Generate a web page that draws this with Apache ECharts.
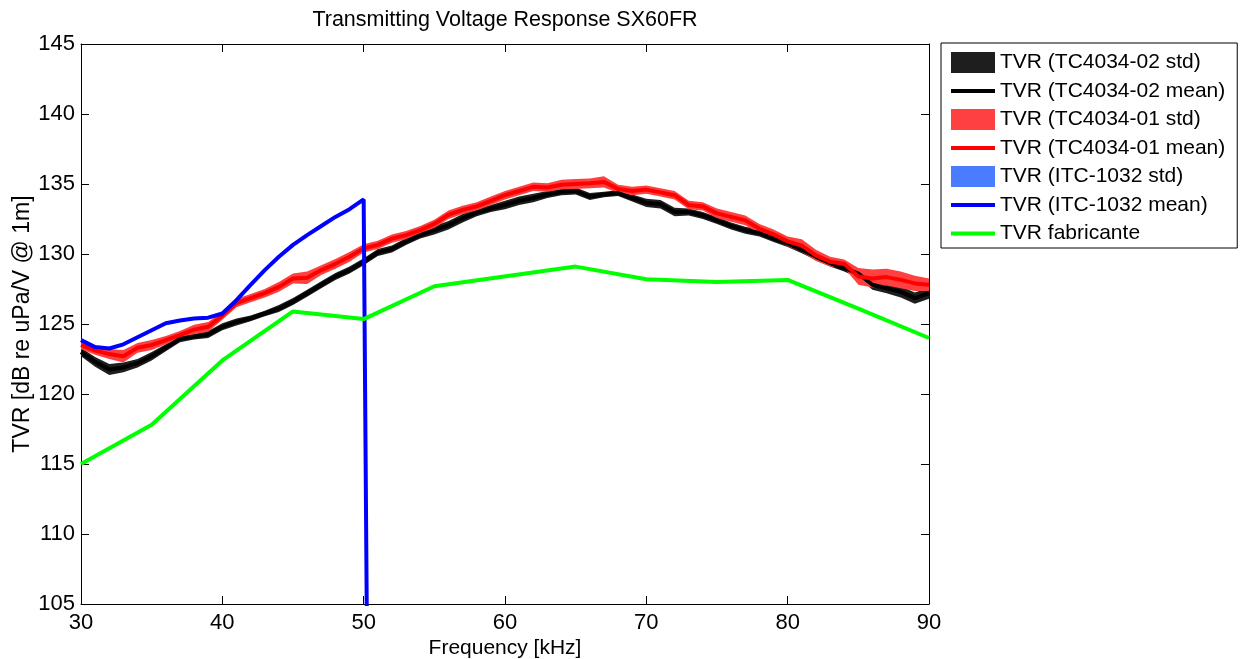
<!DOCTYPE html>
<html><head><meta charset="utf-8">
<script src="https://cdn.jsdelivr.net/npm/echarts@6/dist/echarts.min.js"></script>
<style>html,body{margin:0;padding:0;background:#fff}#c{width:1242px;height:659px}</style>
</head><body><div id="c"></div>
<script>
const freq = [30,31,32,33,34,35,36,37,38,39,40,41,42,43,44,45,46,47,48,49,50,51,52,53,54,55,56,57,58,59,60,61,62,63,64,65,66,67,68,69,70,71,72,73,74,75,76,77,78,79,80,81,82,83,84,85,86,87,88,89,90];
const mean02 = [123.0,122.3,121.75,121.9,122.2,122.7,123.3,123.95,124.1,124.25,124.8,125.15,125.4,125.75,126.1,126.6,127.2,127.8,128.4,128.85,129.45,130.1,130.35,130.9,131.35,131.7,132.05,132.55,132.95,133.25,133.5,133.8,134.0,134.25,134.45,134.5,134.1,134.25,134.35,134.0,133.65,133.55,133.0,133.0,132.75,132.4,132.0,131.7,131.5,131.1,130.75,130.3,129.8,129.35,129.0,128.6,127.8,127.55,127.3,126.85,127.2];
const std02 = [0.3,0.35,0.4,0.35,0.3,0.3,0.25,0.25,0.2,0.25,0.25,0.25,0.2,0.2,0.25,0.25,0.25,0.25,0.25,0.25,0.25,0.25,0.25,0.25,0.25,0.3,0.3,0.3,0.25,0.25,0.3,0.3,0.3,0.25,0.25,0.25,0.25,0.2,0.2,0.25,0.3,0.3,0.3,0.25,0.25,0.25,0.25,0.25,0.25,0.25,0.25,0.25,0.25,0.25,0.25,0.3,0.35,0.35,0.4,0.4,0.4];
const mean01 = [123.5,123.1,122.85,122.7,123.3,123.5,123.85,124.2,124.6,124.8,125.6,126.5,126.85,127.2,127.65,128.25,128.3,128.85,129.3,129.8,130.4,130.65,131.1,131.35,131.7,132.15,132.8,133.15,133.4,133.8,134.2,134.5,134.8,134.75,134.95,135.0,135.05,135.15,134.65,134.5,134.6,134.4,134.2,133.5,133.4,132.9,132.65,132.4,131.8,131.4,130.9,130.6,129.9,129.45,129.3,128.4,128.25,128.35,128.15,127.9,127.8];
const std01 = [0.3,0.3,0.35,0.45,0.35,0.35,0.3,0.3,0.35,0.35,0.3,0.3,0.3,0.3,0.35,0.35,0.45,0.35,0.35,0.35,0.3,0.3,0.3,0.3,0.3,0.3,0.3,0.3,0.3,0.3,0.3,0.3,0.3,0.3,0.35,0.35,0.35,0.4,0.3,0.3,0.3,0.3,0.3,0.3,0.3,0.35,0.35,0.35,0.35,0.35,0.35,0.45,0.4,0.35,0.3,0.6,0.65,0.6,0.6,0.55,0.45];
const freqITC = [30,31,32,33,34,35,36,37,38,39,40,41,42,43,44,45,46,47,48,49,50,51];
const meanITC = [123.85,123.35,123.25,123.55,124.05,124.55,125.05,125.25,125.4,125.45,125.75,126.7,127.8,128.85,129.8,130.65,131.35,132.0,132.65,133.2,133.9,0];
const stdITC = [0.1,0.1,0.1,0.1,0.1,0.1,0.1,0.1,0.1,0.1,0.1,0.1,0.1,0.1,0.1,0.1,0.1,0.1,0.1,0.1,0.1];
const freqFab = [30,35,40,45,50,55,65,70,75,80,85,90];
const tvrFab = [115.0,117.8,122.4,125.9,125.35,127.7,129.1,128.2,128.0,128.15,126.1,124.0];
const xTicks = [30,40,50,60,70,80,90];
const yTicks = [105,110,115,120,125,130,135,140,145];

const names = ['TVR (TC4034-02 std)','TVR (TC4034-02 mean)','TVR (TC4034-01 std)','TVR (TC4034-01 mean)','TVR (ITC-1032 std)','TVR (ITC-1032 mean)','TVR fabricante'];
const FONT = 'Liberation Sans, Arial, sans-serif';

function pairs(xs, ys){ return ys.map((v,i)=>[xs[i], v]); }

function bandSeries(name, xs, m, s, color){
  const data = s.map((d,i)=>[xs[i], m[i]-d, m[i]+d]);
  return {
    type:'custom', name:name, data:data, z:2, silent:true,
    itemStyle:{color:color},
    encode:{x:0, y:[1,2]},
    renderItem:function(params, api){
      if (params.dataIndex !== 0) return null;
      const top = [], bot = [];
      for (let i = 0; i < data.length; i++){
        top.push(api.coord([data[i][0], data[i][2]]));
        bot.push(api.coord([data[i][0], data[i][1]]));
      }
      return {type:'polygon', shape:{points: top.concat(bot.reverse())}, style:{fill:color, stroke:null}};
    }
  };
}
function meanLine(name, data, color){
  return {type:'line', name:name, data:data, symbol:'none', itemStyle:{color:color}, lineStyle:{color:color, width:4}, z:3};
}

const series = [
  bandSeries(names[0], freq, mean02, std02, '#1e1e1e'),
  meanLine(names[1], pairs(freq, mean02), '#000000'),
  bandSeries(names[2], freq, mean01, std01, '#ff4040'),
  meanLine(names[3], pairs(freq, mean01), '#ff0000'),
  bandSeries(names[4], freqITC.slice(0, stdITC.length), meanITC, stdITC, '#4a7cff'),
  meanLine(names[5], pairs(freqITC, meanITC), '#0000ff'),
  meanLine(names[6], pairs(freqFab, tvrFab), '#00ff00')
];

const rectIcon = 'rect';
const lineIcon = 'path://M0,0H44V4H0Z';

const axisCommon = {
  axisLine:{show:true, onZero:false, lineStyle:{color:'#000', width:1}},
  axisTick:{show:true, inside:true, length:8, lineStyle:{color:'#000'}},
  splitLine:{show:false}
};

const option = {
  animation:false,
  backgroundColor:'#fff',
  title:{text:'Transmitting Voltage Response SX60FR', left:505, top:9, textAlign:'center', padding:0,
    textStyle:{fontFamily:FONT, fontSize:21.5, fontWeight:'normal', color:'#000'}},
  grid:{left:81, right:313, top:44, bottom:55, containLabel:false, outerBoundsMode:'none', show:false},
  legend:{
    orient:'vertical', left:941, top:43, padding:[9,12,4,10],
    borderColor:'#000', borderWidth:1, backgroundColor:'#fff',
    itemWidth:44, itemHeight:21, itemGap:7.5, symbolKeepAspect:true,
    textStyle:{fontFamily:FONT, fontSize:21, color:'#000'},
    data:[
      {name:names[0], icon:rectIcon},
      {name:names[1], icon:lineIcon},
      {name:names[2], icon:rectIcon},
      {name:names[3], icon:lineIcon},
      {name:names[4], icon:rectIcon},
      {name:names[5], icon:lineIcon},
      {name:names[6], icon:lineIcon}
    ],
    selectedMode:false
  },
  xAxis:[
    Object.assign({type:'value', min:xTicks[0], max:xTicks[xTicks.length-1], interval:10, position:'bottom',
      name:'Frequency [kHz]', nameLocation:'middle', nameGap:34, nameMoveOverlap:false,
      nameTextStyle:{fontFamily:FONT, fontSize:21, color:'#000'},
      axisLabel:{fontFamily:FONT, fontSize:22, color:'#000', margin:8}}, axisCommon),
    Object.assign({type:'value', min:xTicks[0], max:xTicks[xTicks.length-1], interval:10, position:'top',
      axisLabel:{show:false}}, axisCommon)
  ],
  yAxis:[
    Object.assign({type:'value', min:yTicks[0], max:yTicks[yTicks.length-1], interval:5, position:'left',
      name:'TVR [dB re uPa/V @ 1m]', nameLocation:'middle', nameGap:47, nameMoveOverlap:false,
      nameTextStyle:{fontFamily:FONT, fontSize:23, color:'#000'},
      axisLabel:{fontFamily:FONT, fontSize:22, color:'#000', margin:6}}, axisCommon),
    Object.assign({type:'value', min:yTicks[0], max:yTicks[yTicks.length-1], interval:5, position:'right',
      axisLabel:{show:false}}, axisCommon)
  ],
  series: series
};

const chart = echarts.init(document.getElementById('c'), null, {renderer:'canvas'});
chart.setOption(option);
</script>
</body></html>
